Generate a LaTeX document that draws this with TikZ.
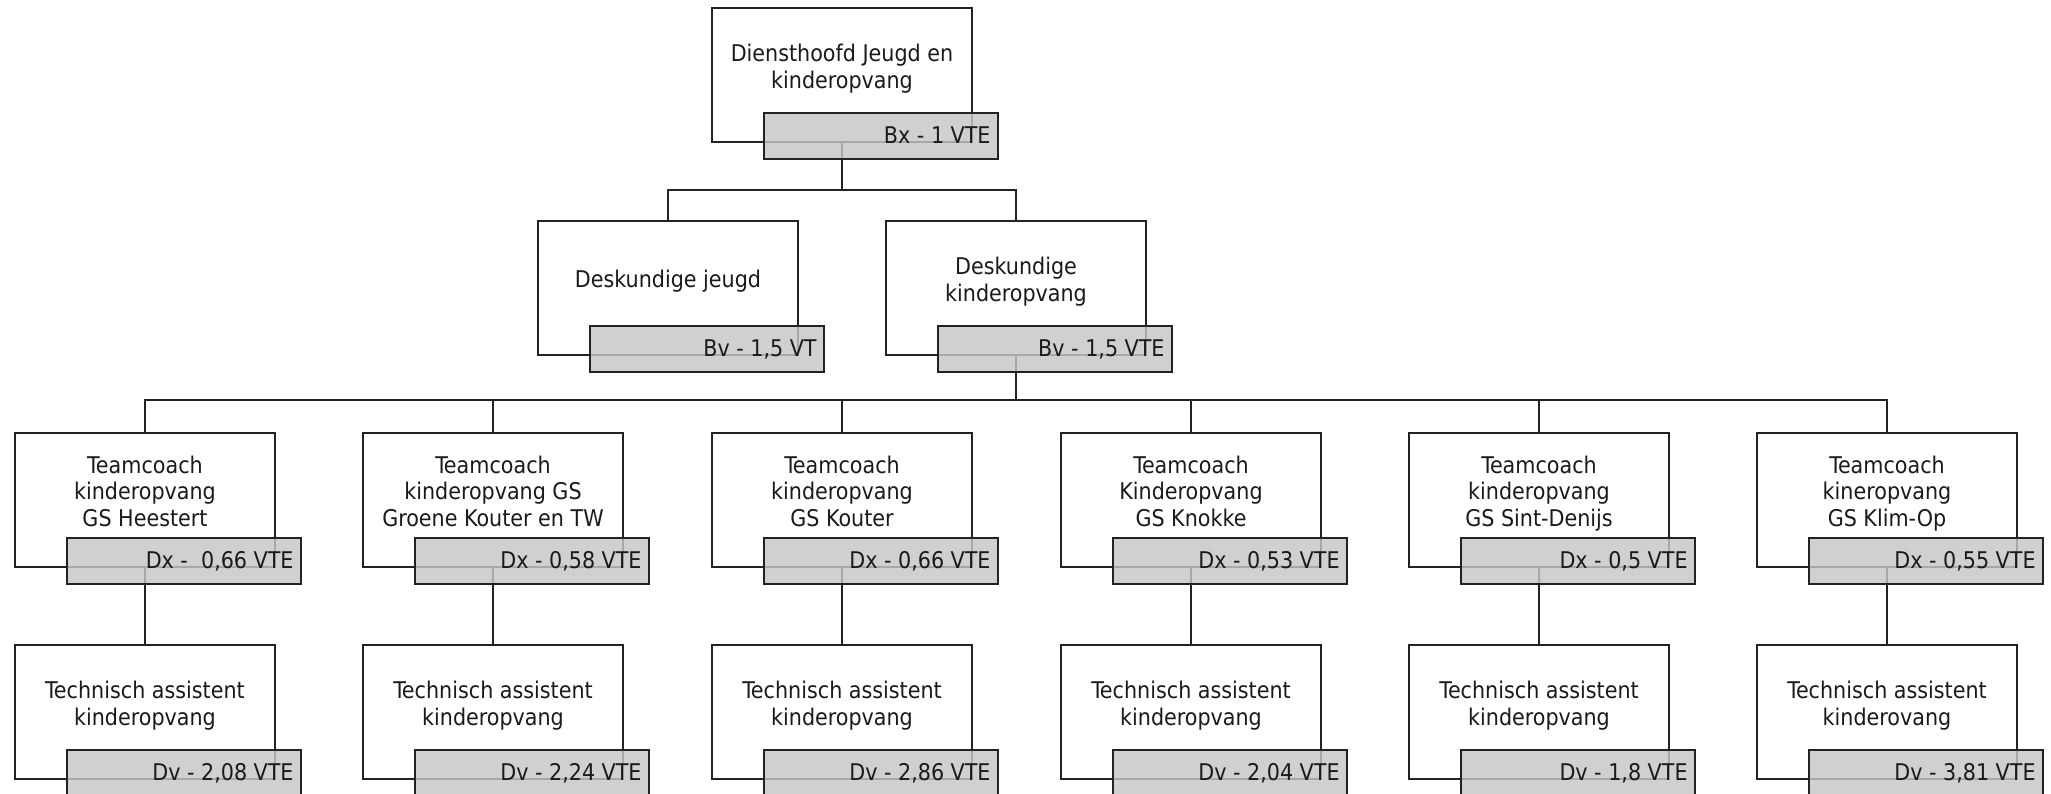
\documentclass[tikz,border=0pt]{standalone}
\usepackage{fontspec}
\setmainfont{DejaVu Sans Condensed}
\usetikzlibrary{calc}
\definecolor{lc}{HTML}{222222}
\definecolor{tc}{HTML}{1A1A1A}
\definecolor{tagfill}{HTML}{C6C6C6}
\newcommand\orgfont{\fontsize{11.5pt}{13.15pt}\selectfont}
\newcommand\orgunit[3]{%
  \node[tag] (t#1) at ($(#1.south)+(39,-6)$) {};
  \node[tagtext] (tt#1) at ($(t#1.north east)+(-7,30)$) {#3};
  \node[title] (x#1) at ($(#1.north)+(0,61.7)$) {#2};
}
\begin{document}
\begin{tikzpicture}[x=0.5pt,y=-0.5pt,
 box/.style={draw=lc,line width=1pt,fill=white,minimum width=130pt,minimum height=67pt,inner sep=0pt,outer sep=0pt},
 tag/.style={draw=lc,line width=1pt,fill=tagfill,fill opacity=0.82,minimum width=117pt,minimum height=23pt,inner sep=0pt,outer sep=0pt},
 title/.style={align=center,text=tc,font=\orgfont,inner sep=0pt},
 tagtext/.style={anchor=base east,text=tc,font=\orgfont,inner sep=0pt},
 conn/.style={draw=lc,line width=1pt}]
\useasboundingbox (0,0) rectangle (2051,793);
\clip (0,0) rectangle (2051,793);
\fill[white] (0,0) rectangle (2051,793);

% white boxes
\node[box] (b0) at (842,75) {};
\node[box] (d1) at (668,288) {};
\node[box] (d2) at (1016,288) {};
\foreach \i/\cx in {1/145,2/493,3/842,4/1191,5/1539,6/1887}{
  \node[box] (c\i) at (\cx,500) {};
  \node[box] (a\i) at (\cx,712) {};
}

% connectors
\coordinate (j0) at (842,190);
\draw[conn] (b0.south) -- (j0);
\draw[conn] (d1.north) |- (j0) -| (d2.north);
\coordinate (j1) at (1016,400);
\draw[conn] (d2.south) -- (j1);
\draw[conn] (c1.north) |- (j1) -| (c6.north);
\foreach \i in {2,...,5}{
  \draw[conn] (c\i.north) -- (c\i.north |- j1);
}
\foreach \i in {1,...,6}{
  \draw[conn] (c\i.south) -- (a\i.north);
}

% tags and titles
\orgunit{b0}{\strut Diensthoofd Jeugd en\\\strut kinderopvang}{Bx - 1 VTE}
\orgunit{d1}{\strut Deskundige jeugd}{Bv - 1,5 VT}
\orgunit{d2}{\strut Deskundige\\\strut kinderopvang}{Bv - 1,5 VTE}
\orgunit{c1}{\strut Teamcoach\\\strut kinderopvang\\\strut GS Heestert}{Dx -\ \ 0,66 VTE}
\orgunit{c2}{\strut Teamcoach\\\strut kinderopvang GS\\\strut Groene Kouter en TW}{Dx - 0,58 VTE}
\orgunit{c3}{\strut Teamcoach\\\strut kinderopvang\\\strut GS Kouter}{Dx - 0,66 VTE}
\orgunit{c4}{\strut Teamcoach\\\strut Kinderopvang\\\strut GS Knokke}{Dx - 0,53 VTE}
\orgunit{c5}{\strut Teamcoach\\\strut kinderopvang\\\strut GS Sint-Denijs}{Dx - 0,5 VTE}
\orgunit{c6}{\strut Teamcoach\\\strut kineropvang\\\strut GS Klim-Op}{Dx - 0,55 VTE}
\orgunit{a1}{\strut Technisch assistent\\\strut kinderopvang}{Dv - 2,08 VTE}
\orgunit{a2}{\strut Technisch assistent\\\strut kinderopvang}{Dv - 2,24 VTE}
\orgunit{a3}{\strut Technisch assistent\\\strut kinderopvang}{Dv - 2,86 VTE}
\orgunit{a4}{\strut Technisch assistent\\\strut kinderopvang}{Dv - 2,04 VTE}
\orgunit{a5}{\strut Technisch assistent\\\strut kinderopvang}{Dv - 1,8 VTE}
\orgunit{a6}{\strut Technisch assistent\\\strut kinderovang}{Dv - 3,81 VTE}
\end{tikzpicture}
\end{document}
